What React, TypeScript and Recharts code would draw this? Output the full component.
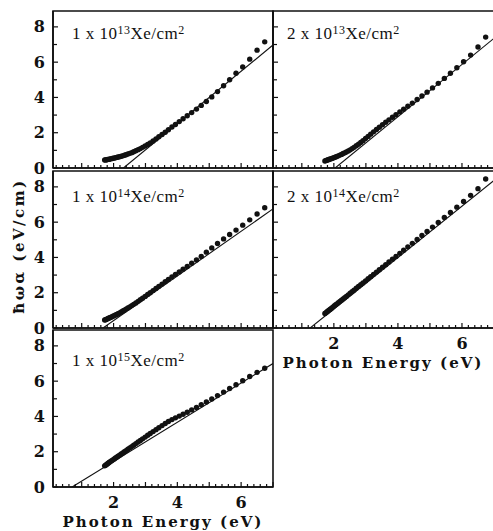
import React from 'react'
import { ScatterChart, Scatter, XAxis, YAxis, ReferenceArea } from 'recharts'

// photon energies (eV) of the measured points, same grid for every dose
const ENERGY = [
  1.72, 1.75, 1.78, 1.81, 1.84, 1.87, 1.9, 1.94, 1.98, 2.02,
  2.06, 2.1, 2.14, 2.19, 2.24, 2.29, 2.34, 2.39, 2.45, 2.51,
  2.57, 2.63, 2.7, 2.77, 2.84, 2.91, 2.99, 3.07, 3.15, 3.24,
  3.33, 3.42, 3.52, 3.62, 3.72, 3.83, 3.94, 4.06, 4.18, 4.31,
  4.45, 4.6, 4.75, 4.91, 5.08, 5.26, 5.45, 5.64, 5.84, 6.05,
  6.27, 6.5, 6.74,
]

// h-omega-alpha (eV/cm) for each Xe dose
const ALPHA_1E13 = [
  0.45, 0.46, 0.47, 0.48, 0.49, 0.5, 0.52, 0.53, 0.55, 0.56,
  0.58, 0.6, 0.62, 0.64, 0.67, 0.69, 0.72, 0.75, 0.79, 0.83,
  0.87, 0.92, 0.98, 1.04, 1.1, 1.17, 1.25, 1.33, 1.42, 1.53,
  1.65, 1.77, 1.9, 2.03, 2.17, 2.32, 2.47, 2.63, 2.79, 2.96,
  3.14, 3.34, 3.55, 3.77, 4.03, 4.33, 4.66, 5.0, 5.37, 5.73,
  6.17, 6.68, 7.15,
]
const ALPHA_2E13 = [
  0.4, 0.42, 0.44, 0.46, 0.48, 0.5, 0.52, 0.54, 0.57, 0.6,
  0.63, 0.66, 0.69, 0.73, 0.77, 0.82, 0.86, 0.91, 0.97, 1.03,
  1.1, 1.17, 1.26, 1.35, 1.45, 1.55, 1.67, 1.79, 1.92, 2.05,
  2.18, 2.31, 2.45, 2.59, 2.73, 2.88, 3.02, 3.18, 3.33, 3.5,
  3.68, 3.88, 4.08, 4.3, 4.54, 4.8, 5.08, 5.37, 5.68, 6.02,
  6.4, 6.86, 7.42,
]
const ALPHA_1E14 = [
  0.45, 0.47, 0.5, 0.52, 0.55, 0.57, 0.6, 0.63, 0.67, 0.7,
  0.74, 0.77, 0.81, 0.86, 0.91, 0.96, 1.01, 1.07, 1.13, 1.2,
  1.27, 1.34, 1.42, 1.51, 1.6, 1.69, 1.79, 1.9, 2.0, 2.12,
  2.24, 2.36, 2.49, 2.62, 2.75, 2.89, 3.03, 3.18, 3.33, 3.49,
  3.67, 3.86, 4.06, 4.3, 4.54, 4.79, 5.05, 5.3, 5.55, 5.83,
  6.13, 6.46, 6.82,
]
const ALPHA_2E14 = [
  0.82, 0.86, 0.91, 0.95, 1.0, 1.04, 1.08, 1.14, 1.2, 1.26,
  1.32, 1.37, 1.43, 1.5, 1.58, 1.65, 1.72, 1.79, 1.88, 1.97,
  2.06, 2.14, 2.25, 2.35, 2.45, 2.55, 2.67, 2.79, 2.91, 3.04,
  3.17, 3.3, 3.45, 3.59, 3.74, 3.9, 4.06, 4.23, 4.41, 4.6,
  4.8, 5.02, 5.24, 5.47, 5.72, 5.98, 6.26, 6.55, 6.85, 7.17,
  7.52, 7.9, 8.45,
]
const ALPHA_1E15 = [
  1.2, 1.24, 1.28, 1.32, 1.36, 1.4, 1.44, 1.49, 1.54, 1.59,
  1.64, 1.69, 1.74, 1.8, 1.87, 1.93, 2.0, 2.06, 2.14, 2.22,
  2.29, 2.37, 2.46, 2.55, 2.64, 2.73, 2.83, 2.93, 3.03, 3.14,
  3.25, 3.36, 3.48, 3.6, 3.71, 3.82, 3.92, 4.02, 4.12, 4.24,
  4.37, 4.51, 4.66, 4.82, 4.99, 5.18, 5.38, 5.58, 5.8, 6.02,
  6.26, 6.5, 6.73,
]

// straight-line fits (Tauc-type extrapolation), end points
const FIT_1E13_X = [2.31, 7.0]
const FIT_1E13_Y = [0, 6.97]
const FIT_2E13_X = [2.04, 7.0]
const FIT_2E13_Y = [0, 7.35]
const FIT_1E14_X = [1.67, 7.0]
const FIT_1E14_Y = [0, 6.75]
const FIT_2E14_X = [1.26, 7.0]
const FIT_2E14_Y = [0, 8.36]
const FIT_1E15_X = [0.7, 7.0]
const FIT_1E15_Y = [0, 7.0]

const X_LABELS = [2, 4, 6]
const Y_LABELS = [0, 2, 4, 6, 8]
const X_TICKS = Array.from({ length: 35 }, (_, i) => Number((0.2 * (i + 1)).toFixed(1)))
const Y_TICKS = [0, 1, 2, 3, 4, 5, 6, 7, 8]
const X_DOMAIN = [0.1, 7]
const Y_DOMAIN = [0, 8.9]

const INK = '#111'
const BOLD = { fontFamily: 'DejaVu Serif', fontWeight: 700, fontSize: 16, fill: INK }
const TITLE = {
  position: 'absolute' as const,
  fontFamily: 'DejaVu Serif',
  fontWeight: 700,
  fontSize: 15,
  letterSpacing: 2,
  lineHeight: '18px',
  color: INK,
  whiteSpace: 'nowrap' as const,
  textAlign: 'center' as const,
}
const SUP = { fontSize: 12, verticalAlign: '5px', lineHeight: 0 }

const COL_X = [53, 273]
const COL_W = [220, 221]
const ROW_Y = [11, 171, 330]
const PLOT_H = 157
// the axes get 1px of their own, so the outer margins are 1px smaller
const ML = 44
const MR = 3
const MT = 3
const MB = 27

const panels = [
  { mant: '1', exp: '13', ys: ALPHA_1E13, fx: FIT_1E13_X, fy: FIT_1E13_Y, col: 0, row: 0, yLab: true, xLab: false, lx: 72, ly: 24 },
  { mant: '2', exp: '13', ys: ALPHA_2E13, fx: FIT_2E13_X, fy: FIT_2E13_Y, col: 1, row: 0, yLab: false, xLab: false, lx: 287, ly: 24 },
  { mant: '1', exp: '14', ys: ALPHA_1E14, fx: FIT_1E14_X, fy: FIT_1E14_Y, col: 0, row: 1, yLab: true, xLab: false, lx: 72, ly: 187 },
  { mant: '2', exp: '14', ys: ALPHA_2E14, fx: FIT_2E14_X, fy: FIT_2E14_Y, col: 1, row: 1, yLab: false, xLab: true, lx: 287, ly: 187 },
  { mant: '1', exp: '15', ys: ALPHA_1E15, fx: FIT_1E15_X, fy: FIT_1E15_Y, col: 0, row: 2, yLab: true, xLab: true, lx: 72, ly: 351 },
]

const xTick = (showLabel: boolean) => (props: any) => {
  const { x, y, payload } = props
  const v = payload.value
  const major = Math.abs(v - Math.round(v)) < 1e-6
  return (
    <g>
      <line x1={x} x2={x} y1={y} y2={y - (major ? 5 : 3)} stroke={INK} strokeWidth={1.2} />
      {showLabel && major && X_LABELS.includes(Math.round(v)) ? (
        <text x={x} y={y + 15} dy="0.35em" textAnchor="middle" style={BOLD}>
          {Math.round(v)}
        </text>
      ) : null}
    </g>
  )
}

const yTick = (showLabel: boolean) => (props: any) => {
  const { x, y, payload } = props
  const v = payload.value
  return (
    <g>
      <line x1={x} x2={x + (v % 2 === 0 ? 5 : 4)} y1={y} y2={y} stroke={INK} strokeWidth={1.2} />
      {showLabel && Y_LABELS.includes(v) ? (
        <text x={x - 8} y={y} dy="0.35em" textAnchor="end" style={BOLD}>
          {v}
        </text>
      ) : null}
    </g>
  )
}

const Dot = (p: any) => <circle cx={p.cx} cy={p.cy} r={2.7} fill={INK} />

function Panel({ p }: { p: (typeof panels)[number] }) {
  const points = ENERGY.map((e, i) => ({ e, v: p.ys[i] }))
  const fit = p.fx.map((e, i) => ({ e, v: p.fy[i] }))
  const w = COL_W[p.col]
  return (
    <div style={{ position: 'absolute', left: COL_X[p.col] - ML - 1, top: ROW_Y[p.row] - MT }}>
      <ScatterChart
        width={w + ML + MR + 1}
        height={PLOT_H + MT + MB + 1}
        margin={{ top: MT, right: MR, bottom: MB, left: ML }}
      >
        <XAxis
          type="number"
          dataKey="e"
          domain={X_DOMAIN}
          ticks={X_TICKS}
          interval={0}
          height={1}
          tickSize={0}
          tickMargin={0}
          tickLine={false}
          tick={xTick(p.xLab)}
          axisLine={{ stroke: INK, strokeWidth: 1.6 }}
          allowDataOverflow
        />
        <YAxis
          type="number"
          dataKey="v"
          domain={Y_DOMAIN}
          ticks={Y_TICKS}
          interval={0}
          width={1}
          tickSize={0}
          tickMargin={0}
          tickLine={false}
          tick={yTick(p.yLab)}
          axisLine={{ stroke: INK, strokeWidth: 1.6 }}
          allowDataOverflow
        />
        <ReferenceArea
          x1={X_DOMAIN[0]}
          x2={X_DOMAIN[1]}
          y1={Y_DOMAIN[0]}
          y2={Y_DOMAIN[1]}
          fill="none"
          stroke={INK}
          strokeWidth={1.6}
        />
        <Scatter
          data={fit}
          line={{ stroke: INK, strokeWidth: 1.1 }}
          shape={() => <g />}
          isAnimationActive={false}
        />
        <Scatter data={points} shape={Dot} isAnimationActive={false} />
      </ScatterChart>
    </div>
  )
}

export default function App() {
  return (
    <div
      style={{
        position: 'absolute',
        left: 0,
        top: 0,
        width: 493,
        height: 531,
        overflow: 'hidden',
        background: '#fff',
      }}
    >
      {panels.map((p) => (
        <Panel key={p.mant + p.exp} p={p} />
      ))}
      {panels.map((p) => (
        <div
          key={'l' + p.mant + p.exp}
          style={{
            position: 'absolute',
            left: p.lx,
            top: p.ly,
            fontFamily: 'Liberation Serif',
            fontSize: 17,
            letterSpacing: 0.5,
            lineHeight: '20px',
            color: INK,
            whiteSpace: 'nowrap',
          }}
        >
          {p.mant} x 10<sup style={SUP}>{p.exp}</sup>Xe/cm<sup style={SUP}>2</sup>
        </div>
      ))}
      <div style={{ ...TITLE, left: 273, width: 220, top: 354 }}>Photon Energy (eV)</div>
      <div style={{ ...TITLE, left: 53, width: 220, top: 513 }}>Photon Energy (eV)</div>
      <div
        style={{
          ...TITLE,
          letterSpacing: 2.5,
          left: 18.5 - 90,
          width: 180,
          top: 245.5 - 9,
          transform: 'rotate(-90deg)',
        }}
      >
        ħωα (eV/cm)
      </div>
    </div>
  )
}
